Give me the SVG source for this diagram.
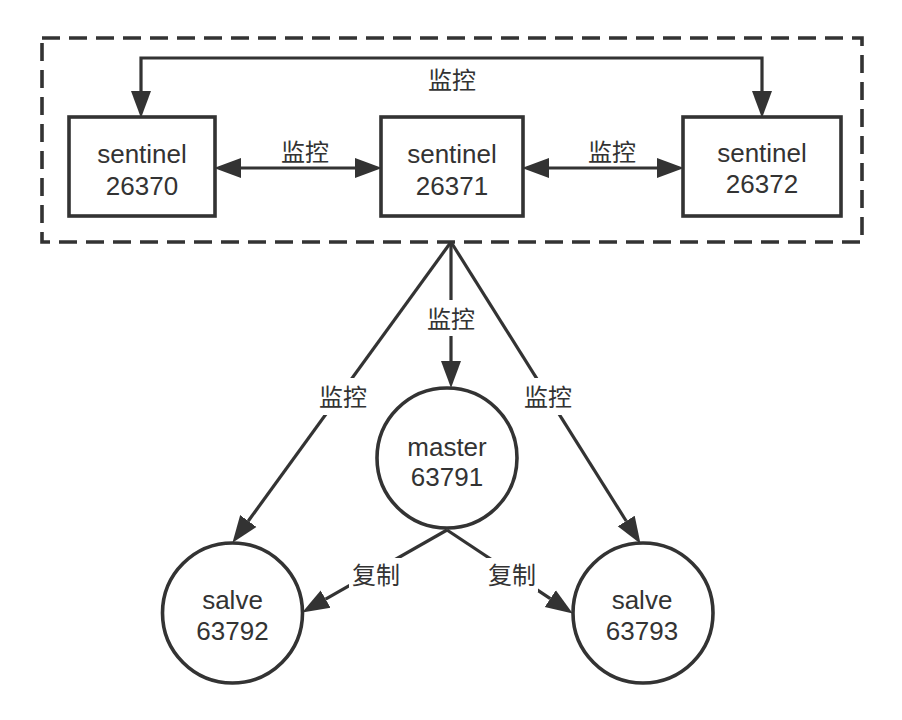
<svg xmlns="http://www.w3.org/2000/svg" width="902" height="720" viewBox="0 0 902 720">
<defs>
<marker id="arr" markerUnits="userSpaceOnUse" markerWidth="30" markerHeight="22" refX="0" refY="10" orient="auto-start-reverse" viewBox="0 0 30 20">
<path d="M0,0 L27,10 L0,20 Z" fill="#333"/>
</marker>
<style>
.ln{fill:none;stroke:#333;stroke-width:3.2}
.nd{fill:#fff;stroke:#333;stroke-width:3.6}
.t{font-family:"Liberation Sans","Noto Sans CJK SC",sans-serif;font-size:26px;fill:#333;text-anchor:middle}
.lb{font-family:"Liberation Sans","Noto Sans CJK SC",sans-serif;font-size:24px;fill:#333;text-anchor:middle}
.bg{fill:#fff}
</style>
</defs>
<rect width="902" height="720" fill="#fff"/>
<g id="cluster">
<rect x="42" y="38" width="820" height="204" fill="none" stroke="#333" stroke-width="3.6" stroke-dasharray="18 9"/>
</g>
<g id="connectors">
<path class="ln" d="M141,91 V58 H762 V91" marker-start="url(#arr)" marker-end="url(#arr)"/>
<path class="ln" d="M241,168 H355" marker-start="url(#arr)" marker-end="url(#arr)"/>
<path class="ln" d="M549,168 H657" marker-start="url(#arr)" marker-end="url(#arr)"/>
<path class="ln" d="M451,242 V361" marker-end="url(#arr)"/>
<path class="ln" d="M451,242 L248.3,521" marker-end="url(#arr)"/>
<path class="ln" d="M451,242 L626.2,521" marker-end="url(#arr)"/>
<path class="ln" d="M447,530 L325.6,599.1" marker-end="url(#arr)"/>
<path class="ln" d="M447,530 L550.3,598.6" marker-end="url(#arr)"/>
</g>
<g id="labels">
<text class="lb" x="452" y="89">监控</text>
<text class="lb" x="305" y="161">监控</text>
<text class="lb" x="612" y="161">监控</text>
<rect class="bg" x="425" y="300" width="52" height="36"/>
<text class="lb" x="451" y="328">监控</text>
<rect class="bg" x="317" y="378" width="53" height="37"/>
<text class="lb" x="343" y="406">监控</text>
<rect class="bg" x="522" y="378" width="53" height="37"/>
<text class="lb" x="548" y="406">监控</text>
<rect class="bg" x="349" y="558" width="54" height="34"/>
<text class="lb" x="376" y="584">复制</text>
<rect class="bg" x="485" y="558" width="53" height="34"/>
<text class="lb" x="512" y="584">复制</text>
</g>
<g id="sentinel-26370">
<rect class="nd" x="69" y="117" width="146" height="99"/>
<text class="t" x="142" y="163">sentinel</text>
<text class="t" x="142" y="195">26370</text>
</g>
<g id="sentinel-26371">
<rect class="nd" x="381" y="117" width="142" height="99"/>
<text class="t" x="452" y="163">sentinel</text>
<text class="t" x="452" y="195">26371</text>
</g>
<g id="sentinel-26372">
<rect class="nd" x="683" y="117" width="158" height="99"/>
<text class="t" x="762" y="162">sentinel</text>
<text class="t" x="762" y="193">26372</text>
</g>
<g id="master-63791">
<circle class="nd" cx="447" cy="458" r="70"/>
<text class="t" x="447" y="456">master</text>
<text class="t" x="447" y="486">63791</text>
</g>
<g id="salve-63792">
<circle class="nd" cx="232.5" cy="613" r="70"/>
<text class="t" x="232.5" y="609">salve</text>
<text class="t" x="232.5" y="640">63792</text>
</g>
<g id="salve-63793">
<circle class="nd" cx="643" cy="613" r="70"/>
<text class="t" x="642" y="609">salve</text>
<text class="t" x="642" y="640">63793</text>
</g>
</svg>
